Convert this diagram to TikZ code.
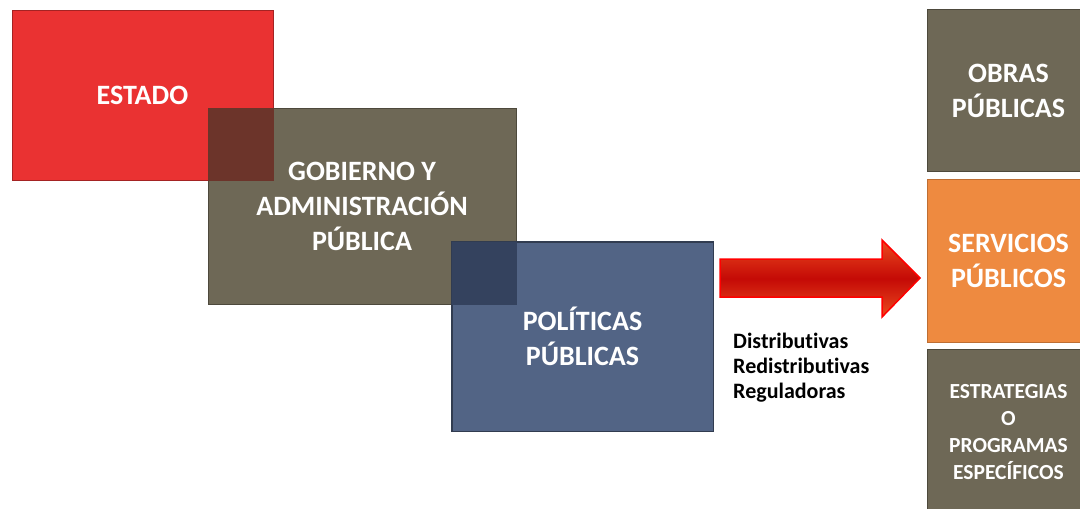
\documentclass[tikz,border=0pt]{standalone}
\usepackage{fontspec}
\setmainfont{Carlito}[Ligatures=NoCommon]
\usetikzlibrary{positioning}
\definecolor{cRed}{RGB}{234,50,50}
\definecolor{cOlive}{RGB}{110,104,86}
\definecolor{cBlue}{RGB}{82,100,133}
\definecolor{cOrange}{RGB}{238,138,64}
\definecolor{cOvA}{RGB}{108,52,42}
\definecolor{cOvB}{RGB}{52,66,94}
\definecolor{cArrowEdge}{RGB}{236,74,30}
\definecolor{cArrowMid}{RGB}{196,10,6}
\tikzset{
  box/.style={rectangle, inner sep=0pt, align=center, text=white,
    font=\bfseries\fontsize{28}{35}\selectfont},
  sidebox/.style={box, minimum width=162pt, anchor=north west},
  label/.style={align=left, anchor=base west, inner sep=0pt,
    font=\bfseries\fontsize{22}{25}\selectfont, text=black}
}
\begin{document}
\begin{tikzpicture}[x=1pt,y=-1pt]
\useasboundingbox (0,0) rectangle (1080,509);
\clip (0,0) rectangle (1080,509);
\fill[white] (0,0) rectangle (1080,509);
% main cascade
\node[box, fill=cRed, draw=cRed!70!black, line width=1pt,
  minimum width=261pt, minimum height=170pt] (estado) at (142.5,95) {};
\node[box, fill=cOlive, draw=cOlive!70!black, line width=1pt,
  minimum width=308pt, minimum height=196pt] (gob) at (362,206) {};
\fill[cOvA] (gob.north west) rectangle (estado.south east);
\node[box, fill=cBlue, draw=cBlue!60!black, line width=1pt,
  minimum width=261pt, minimum height=189pt] (pol) at (582.5,336.5) {};
\fill[cOvB] (pol.north west) rectangle (gob.south east);
\draw[cBlue!60!black, line width=1pt] (pol.north west) rectangle (pol.south east);
\node[box] at (estado.center) {ESTADO};
\node[box] at (gob.center) {GOBIERNO Y\\ADMINISTRACIÓN\\PÚBLICA};
\node[box] at (pol.center) {POLÍTICAS\\PÚBLICAS};
% right column
\node[sidebox, fill=cOlive, draw=cOlive!70!black, line width=1pt,
  minimum height=162pt] (obras) at (927,9) {OBRAS\\PÚBLICAS};
\node[sidebox, fill=cOrange, draw=cOrange!80!black, line width=1pt,
  minimum height=163pt] (serv) at (927,179) {SERVICIOS\\PÚBLICOS};
\node[sidebox, fill=cOlive, draw=cOlive!70!black, line width=1pt,
  minimum height=165pt, font=\bfseries\fontsize{21.5}{27}\selectfont] (estr) at (927,349)
  {ESTRATEGIAS\\O\\PROGRAMAS\\ESPECÍFICOS};
% block arrow
\coordinate (tip) at (920,278);
\shade[top color=cArrowEdge, bottom color=cArrowEdge, middle color=cArrowMid]
  (720,259) -- (882,259) -- (882,240) -- (tip) -- (882,317) -- (882,297) -- (720,297) -- cycle;
\draw[red, line width=1.5pt, line join=miter]
  (720,259) -- (882,259) -- (882,240) -- (tip) -- (882,317) -- (882,297) -- (720,297) -- cycle;
% labels
\node[label] (tipos) at (733,398) {Distributivas\\Redistributivas\\Reguladoras};
\end{tikzpicture}
\end{document}
